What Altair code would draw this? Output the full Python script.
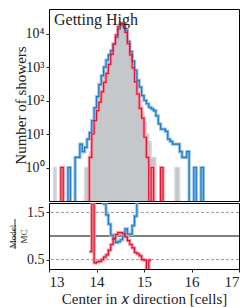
import altair as alt
import pandas as pd
import numpy as np

# ---- data (bins of 0.05 cells from 13.0 to 17.0) ----
BIN0, BINW, NBIN = 13.0, 0.05, 80

mc_counts = [
    0, 0, 1, 0, 0, 0, 0, 0, 0, 0,
    0, 0, 0, 0, 0, 1, 1, 3, 12, 35,
    90, 180, 350, 650, 1100, 1800, 3000, 5200, 9000, 15500,
    19500, 17800, 11000, 5600, 2800, 1250, 560, 250, 100, 45,
    22, 10, 6, 2, 2, 0, 0, 0, 0, 0,
    0, 0, 0, 1, 1, 0, 0, 0, 0, 0,
    0, 1, 0, 0, 0, 0, 0, 0, 0, 0,
    0, 0, 0, 0, 0, 0, 0, 0, 0, 0,
]
red_counts = [
    0, 0, 0, 0, 0, 1, 0, 0, 0, 0,
    0, 0, 0, 0, 0, 0, 0, 2, 10, 25,
    50, 90, 180, 350, 650, 1200, 2400, 4800, 9000, 16000,
    20500, 18700, 10800, 5000, 2300, 940, 360, 155, 58, 30,
    8, 2, 0, 1, 0, 0, 0, 1, 0, 0,
    0, 0, 0, 0, 0, 0, 0, 0, 0, 0,
    0, 0, 0, 0, 0, 0, 0, 0, 0, 0,
    0, 0, 0, 0, 0, 0, 0, 0, 0, 0,
]
blue_counts = [
    0, 0, 0, 0, 0, 0, 0, 0, 1, 0,
    0, 2, 2, 5, 3, 4, 7, 11, 25, 60,
    130, 300, 550, 1000, 1600, 2300, 3100, 4800, 7700, 13600,
    18000, 18000, 12500, 5800, 2900, 1500, 800, 400, 250, 140,
    100, 80, 63, 56, 50, 35, 20, 14, 14, 12,
    7, 6, 5, 5, 5, 3, 2, 2, 3, 0,
    0, 1, 0, 0, 1, 0, 0, 0, 0, 0,
    0, 0, 0, 0, 0, 0, 0, 0, 0, 0,
]
# ratio Model/MC as drawn in the lower panel (first bin index, values)
red_ratio_start = 17
red_ratio = [0.67, 3.0, 0.43, 0.45, 0.46, 0.50, 0.55, 0.60, 0.70, 0.82,
             0.95, 1.03, 1.07, 1.07, 1.05, 0.98, 0.90, 0.82, 0.75, 0.65,
             0.62, 0.58, 0.50, 0.49, 0.20, 0.49]
blue_ratio_start = 17
blue_ratio = [3.0, 3.0, 3.0, 3.0, 3.0, 3.0, 1.68, 1.45, 1.25, 1.02,
              0.93, 0.86, 0.88, 0.92, 1.00, 1.15, 1.04, 1.04, 1.22, 1.42,
              3.0, 3.0]

y_ticks = [1, 10, 100, 1000, 10000]
x_ticks = [13, 14, 15, 16, 17]
ratio_ticks = [0.5, 1.5]
ratio_dashed = [0.5, 1.5]

RED, RED_L = "#e3112e", "#f39aa6"
BLUE, BLUE_L = "#1f77c4", "#93c4e8"
GRAY, GRAY_L = "#c5c8cb", "#d8d9db"
FONT = "Liberation Serif"

W, H1, H2 = 190, 192, 66
FLOOR = 1e-3

edges = np.round(BIN0 + BINW * np.arange(NBIN + 1), 4)
def ext(a):
    a = list(a) + [a[-1]]
    return [v if v > 0 else FLOOR for v in a]

main_df = pd.DataFrame({
    "x": edges,
    "mc": ext(mc_counts),
    "red": ext(red_counts),
    "blue": ext(blue_counts),
})
main_df["floor"] = FLOOR

def ratio_df(start, vals):
    xs = edges[start:start + len(vals) + 1]
    return pd.DataFrame({"x": xs, "r": list(vals) + [vals[-1]]})

rr_df = ratio_df(red_ratio_start, red_ratio)
br_df = ratio_df(blue_ratio_start, blue_ratio)

xsc = alt.Scale(domain=[13, 17], nice=False, zero=False)
ysc = alt.Scale(type="log", domain=[0.1, 54000], nice=False)
rsc = alt.Scale(domain=[0.3, 1.7], nice=False, zero=False)

lbl = ("datum.value == 1 ? '10⁰' : datum.value == 10 ? '10¹' : "
       "datum.value == 100 ? '10²' : datum.value == 1000 ? '10³' : '10⁴'")

base = alt.Chart(main_df)
area = base.mark_area(interpolate="step-after", color=GRAY, clip=True).encode(
    x=alt.X("x:Q", scale=xsc, axis=None),
    y=alt.Y("mc:Q", scale=ysc, stack=None,
            axis=alt.Axis(values=y_ticks, labelExpr=lbl, title="Number of showers",
                          titlePadding=-3, grid=False, labelFontSize=14)),
    y2=alt.Y2("floor:Q"),
)

def step(field, color, width):
    return base.mark_line(interpolate="step-after", color=color, strokeWidth=width,
                          clip=True, strokeJoin="miter").encode(
        x=alt.X("x:Q", scale=xsc),
        y=alt.Y(f"{field}:Q", scale=ysc),
    )

label = alt.Chart(pd.DataFrame({"t": ["Getting High"]})).mark_text(
    align="left", baseline="alphabetic", font=FONT, fontSize=16, color="#222"
).encode(x=alt.value(5), y=alt.value(16), text="t:N")

main = alt.layer(
    area,
    step("mc", GRAY_L, 1.5),
    step("blue", BLUE_L, 3.2), step("red", RED_L, 3.2),
    step("blue", BLUE, 1.2), step("red", RED, 1.2),
    label,
).properties(width=W, height=H1)

dash = alt.Chart(pd.DataFrame({"y": ratio_dashed})).mark_rule(
    color="#999999", strokeDash=[3, 2], strokeWidth=1
).encode(y=alt.Y("y:Q", scale=rsc))
one = alt.Chart(pd.DataFrame({"y": [1.0]})).mark_rule(color="black", strokeWidth=1).encode(
    y=alt.Y("y:Q", scale=rsc))

rr_base = alt.Chart(rr_df)
br_base = alt.Chart(br_df)

def rstep(src, color, width):
    return src.mark_line(interpolate="step-after", color=color, strokeWidth=width,
                         clip=True, strokeJoin="miter").encode(
        x=alt.X("x:Q", scale=xsc),
        y=alt.Y("r:Q", scale=rsc),
    )

ratio_axis_layer = rstep(rr_base, RED_L, 3.2).encode(
    x=alt.X("x:Q", scale=xsc,
            axis=alt.Axis(values=x_ticks, title="Center in 𝑥 direction [cells]",
                          titlePadding=2, grid=False, format="d")),
    y=alt.Y("r:Q", scale=rsc,
            axis=alt.Axis(values=ratio_ticks, format=".1f", title=["Model", "MC"],
                          titleFontSize=9, titleLineHeight=11, titlePadding=-2,
                          labelFontSize=14, grid=False)),
)

frac_bar = alt.Chart(pd.DataFrame({"a": [0]})).mark_rule(color="black", strokeWidth=0.8).encode(
    x=alt.value(-34), y=alt.value(16), y2=alt.value(46))

ratio = alt.layer(
    dash, one,
    rstep(br_base, BLUE_L, 3.2), ratio_axis_layer,
    rstep(br_base, BLUE, 1.2), rstep(rr_base, RED, 1.2),
    frac_bar,
).properties(width=W, height=H2)

chart = alt.vconcat(main, ratio, spacing=0).properties(
    padding={"left": 0, "top": 0, "right": 0, "bottom": 0}
).configure_view(stroke="black", strokeWidth=1).configure_axis(
    labelFont=FONT, titleFont=FONT, labelFontSize=15, titleFontSize=15,
    titleFontWeight="normal", labelColor="#222", titleColor="#222",
    tickColor="#222", tickSize=3, labelPadding=2, domain=False,
)

chart.save("out.html", embed_options={"renderer": "svg", "actions": False})
